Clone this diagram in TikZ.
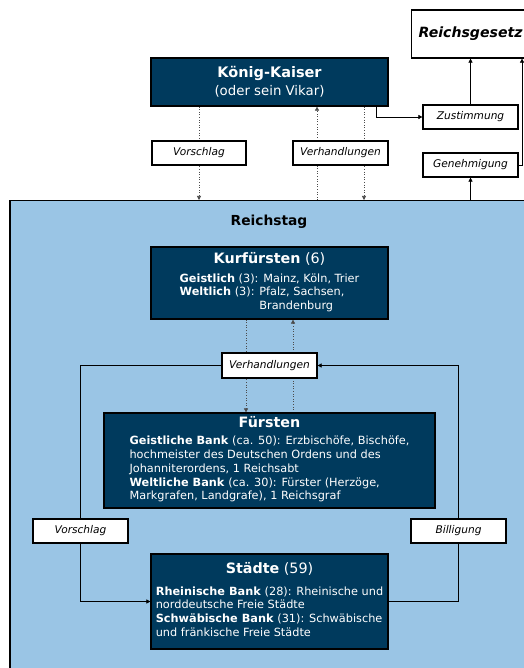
\documentclass[tikz,border=0pt]{standalone}
\usepackage{fontspec}
\setmainfont{DejaVu Sans}
\usepackage{tikz}
\usetikzlibrary{arrows.meta}
\usetikzlibrary{positioning}
\definecolor{navy}{HTML}{003A5D}
\definecolor{skyblue}{HTML}{9AC5E5}
\pgfdeclarelayer{base}
\pgfdeclarelayer{lines}
\pgfsetlayers{base,lines,main}

\begin{document}
\begin{tikzpicture}[x=1pt, y=-1pt]
	\tikzstyle{dark}=[draw=black, line width=1.2pt, fill=navy, text=white, align=center,
	                        inner sep=0pt, font=\fontsize{11.3}{13.8}\selectfont];
	\tikzstyle{lab}=[draw=black, line width=1.2pt, fill=white, font=\fontsize{10.6}{12}\selectfont\itshape,
	                        minimum width=95pt, minimum height=24pt, inner sep=0pt];
	\tikzstyle{con}=[line width=0.6pt, -{Triangle[length=4pt, width=4pt]}];
	\tikzstyle{dotcon}=[con, dotted, draw=black!70];
	\tikzstyle{head}=[font=\fontsize{14.3}{16}\selectfont];
	\useasboundingbox (0,0) rectangle (523,668);
	% Reichstag
	\begin{pgfonlayer}{base}
	\node[draw, line width=1.5pt, fill=skyblue, minimum width=531pt, minimum height=490pt,
	      anchor=north west] (rtag) at (9,200) {};
	\end{pgfonlayer}
	\node[font=\fontsize{13.8}{15}\selectfont\bfseries] (rtitle) at (269,222) {Reichstag};
	% top row
	\node[draw, line width=1.2pt, fill=white, anchor=west, minimum height=48pt, inner xsep=7pt,
	      text width=126pt, align=left,
	      font=\fontsize{14.1}{16}\selectfont\bfseries\itshape] (rg) at (411,34) {Reichsgesetz};
	\node[dark, minimum width=237pt, minimum height=48pt, font=\fontsize{13.3}{18}\selectfont] (kaiser) at (269.5,82)
	     {{\fontsize{14.5}{16}\selectfont\bfseries König-Kaiser}\\(oder sein Vikar)};
	\node[lab] (zust) at (470.5,117) {Zustimmung};
	\node[lab] (geneh) at (470.5,165) {Genehmigung};
	\node[lab, minimum width=94pt] (vor1) at (199,153) {Vorschlag};
	\node[lab] (verh1) at (340.5,153) {Verhandlungen};
	% chambers
	\node[dark, minimum width=237pt, minimum height=72pt] (kurf) at (269.5,283)
	     {{\fontsize{14.3}{16}\selectfont\textbf{Kurfürsten} (6)}\\[5pt]
	      \begin{tabular}[t]{@{}l@{}}
	      \textbf{Geistlich} (3): Mainz, Köln, Trier\\
	      \textbf{Weltlich} (3): Pfalz, Sachsen,\\
	      \phantom{\textbf{Weltlich} (3): }Brandenburg
	      \end{tabular}};
	\node[lab, minimum height=25pt] (verh2) at (269.5,365.5) {Verhandlungen};
	\node[dark, minimum width=331pt, minimum height=95pt] (fuer) at (269.5,460.5)
	     {{\fontsize{14.3}{16}\selectfont\textbf{Fürsten}}\\[3pt]
	      \begin{tabular}[t]{@{}l@{}}
	      \textbf{Geistliche Bank} (ca. 50): Erzbischöfe, Bischöfe,\\
	      hochmeister des Deutschen Ordens und des\\
	      Johanniterordens, 1 Reichsabt\\
	      \textbf{Weltliche Bank} (ca. 30): Fürster (Herzöge,\\
	      Markgrafen, Landgrafe), 1 Reichsgraf
	      \end{tabular}};
	\node[lab] (vor2) at (80.5,531) {Vorschlag};
	\node[lab] (bill) at (458.5,531) {Billigung};
	\node[dark, minimum width=237pt, minimum height=95pt] (staedte) at (269.5,601.5)
	     {{\fontsize{14.3}{16}\selectfont\textbf{Städte} (59)}\\[8pt]
	      \begin{tabular}[t]{@{}l@{}}
	      \textbf{Rheinische Bank} (28): Rheinische und\\
	      norddeutsche Freie Städte\\
	      \textbf{Schwäbische Bank} (31): Schwäbische\\
	      und fränkische Freie Städte
	      \end{tabular}};
	% connectors
	\coordinate (vl) at ([xshift=-23.5pt]verh1.center);
	\coordinate (vr) at ([xshift=23.5pt]verh1.center);
	\coordinate (kz) at ([xshift=-12pt]kaiser.south east);
	\coordinate (edge) at (522,165);
	\coordinate (kl) at ([xshift=-23.5pt]kurf.south);
	\coordinate (kr) at ([xshift=23.5pt]kurf.south);
	\begin{pgfonlayer}{lines}
	\draw[dotcon] (kaiser.south -| vor1) -- (vor1 |- rtag.north);
	\draw[dotcon] (vl |- rtag.north) -- (vl |- kaiser.south);
	\draw[dotcon] (vr |- kaiser.south) -- (vr |- rtag.north);
	\draw[con] (kz) |- (zust.west);
	\draw[con] (zust) -- (zust |- rg.south);
	\draw[con] (geneh |- rtag.north) -- (geneh);
	\draw[con] (geneh.east) -- (edge) -- (edge |- rg.south);
	\draw[dotcon] (kl) -- (kl |- fuer.north);
	\draw[dotcon] (kr |- fuer.north) -- (kr);
	\draw[con] (verh2.west) -| (vor2) |- (staedte.west);
	\draw[con] (staedte.east) -| (bill) |- (verh2.east);
	\end{pgfonlayer}
\end{tikzpicture}
\end{document}
